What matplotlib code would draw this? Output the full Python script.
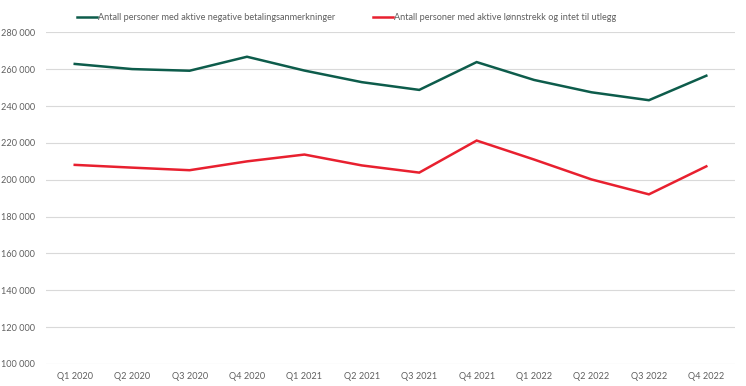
import matplotlib
matplotlib.use("Agg")
import matplotlib.pyplot as plt
from matplotlib.ticker import FuncFormatter

quarters = ["Q1 2020", "Q2 2020", "Q3 2020", "Q4 2020", "Q1 2021", "Q2 2021",
            "Q3 2021", "Q4 2021", "Q1 2022", "Q2 2022", "Q3 2022", "Q4 2022"]
negative = [262900, 260100, 259200, 266800, 259300, 253000,
            248800, 263900, 254200, 247500, 243200, 256500]
lonnstrekk = [208100, 206600, 205200, 210000, 213700, 207800,
              203900, 221300, 211000, 200200, 192100, 207300]
label_neg = "Antall personer med aktive negative betalingsanmerkninger"
label_lonn = "Antall personer med aktive lønnstrekk og intet til utlegg"

plt.rcParams['font.family'] = ['Lato', 'DejaVu Sans']
text_color = "#5f5f5f"
fs = 6.6

fig = plt.figure(figsize=(7.46, 3.86), dpi=100)
ax = fig.add_axes([0.0617, 0.057, 0.9236, 0.859])

x = range(len(quarters))
ax.plot(x, negative, color="#0d5c4b", lw=1.8, label=label_neg, solid_joinstyle='miter')
ax.plot(x, lonnstrekk, color="#e8202f", lw=1.8, label=label_lonn, solid_joinstyle='miter')

ax.set_xlim(-0.5, len(quarters) - 0.5)
ax.set_ylim(100000, 280000)
ax.set_yticks(range(100000, 280001, 20000))
ax.yaxis.set_major_formatter(FuncFormatter(lambda v, p: f"{int(v):,}".replace(",", " ")))
ax.set_xticks(list(x))
ax.set_xticklabels(quarters)
ax.tick_params(axis='both', length=0, labelsize=fs, colors=text_color)
ax.tick_params(axis='y', pad=8)
ax.tick_params(axis='x', pad=6)
ax.grid(axis='y', color="#d9d9d9", lw=0.8)
ax.set_axisbelow(True)
for s in ax.spines.values():
    s.set_visible(False)

fig.legend(loc='center', bbox_to_anchor=(0.4645, 0.955), ncol=2, frameon=False,
           fontsize=fs, handlelength=2.2, handletextpad=0.12, columnspacing=4.1,
           labelcolor=text_color)

fig.savefig("out.png", dpi=100)
